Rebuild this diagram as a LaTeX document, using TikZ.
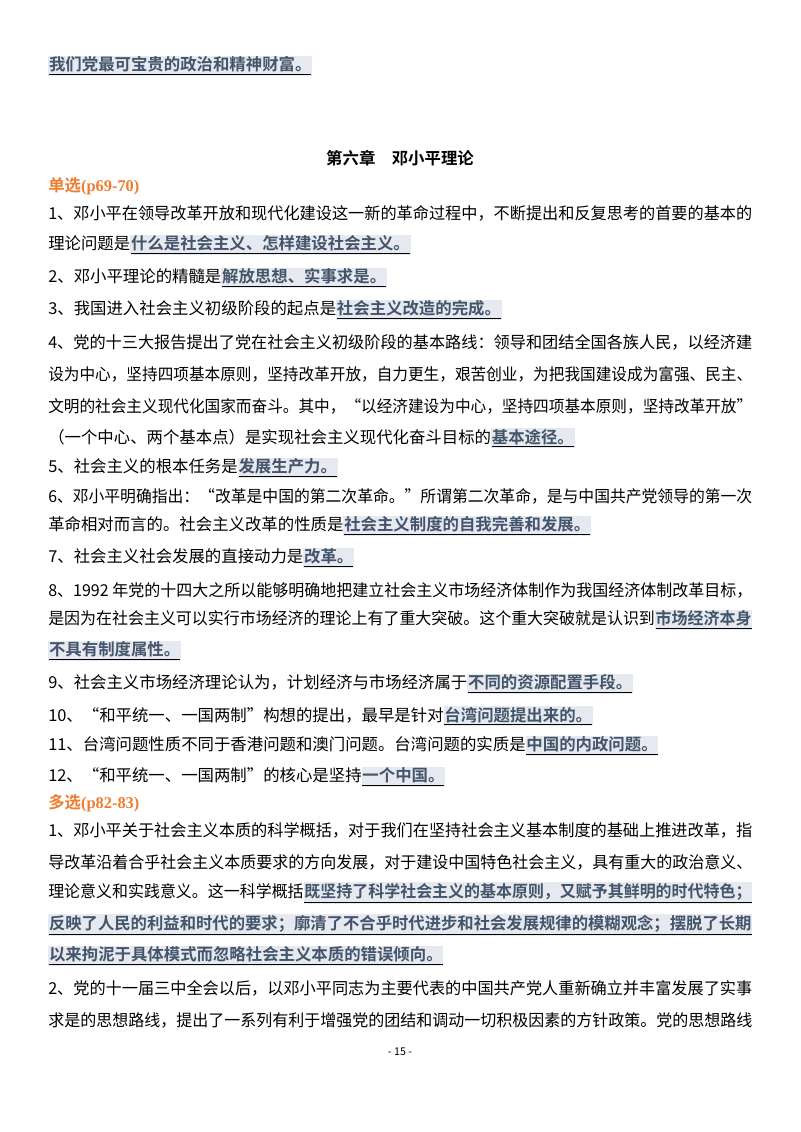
\documentclass[tikz,border=0pt]{standalone}
\usepackage{fontspec}
\usepackage{graphicx}
\setmainfont{Noto Sans CJK SC}[BoldFont={Noto Sans CJK SC Bold}]
\newfontfamily\latinserif{Liberation Serif}
\definecolor{hlbg}{HTML}{E6EAF0}
\definecolor{hltx}{HTML}{44546A}
\definecolor{orng}{HTML}{ED7D31}
\newcommand{\hl}[1]{{\setlength\fboxsep{0.6pt}\colorbox{hlbg}{\underline{\textcolor{hltx}{\bfseries #1}}}}}
\newcommand{\full}[1]{\resizebox{528pt}{\height}{#1}}
\begin{document}
\begin{tikzpicture}[x=0.75pt,y=-0.75pt,
  ln/.style={anchor=west,inner sep=0pt,font=\fontsize{12.3pt}{15pt}\selectfont},
  hd/.style={ln,text=orng,font=\fontsize{12.3pt}{15pt}\selectfont\bfseries}]
\useasboundingbox[fill=white] (0,0) rectangle (800,1132);
\node[ln] (t0) at (48,66) {\hl{我们党最可宝贵的政治和精神财富。}};
\node[ln,anchor=center,font=\fontsize{12.3pt}{15pt}\selectfont\bfseries] (title) at (400,158) {第六章\quad 邓小平理论};
\node[hd] (h1) at (48,186) {单选{\latinserif\bfseries (p69-70)}};
\node[ln] (a1) at (48,213) {\full{1、邓小平在领导改革开放和现代化建设这一新的革命过程中，不断提出和反复思考的首要的基本的}};
\node[ln] (a2) at (48,245) {理论问题是\hl{什么是社会主义、怎样建设社会主义。}};
\node[ln] (a3) at (48,278) {2、邓小平理论的精髓是\hl{解放思想、实事求是。}};
\node[ln] (a4) at (48,310) {3、我国进入社会主义初级阶段的起点是\hl{社会主义改造的完成。}};
\node[ln] (a5) at (48,342) {\full{4、党的十三大报告提出了党在社会主义初级阶段的基本路线：领导和团结全国各族人民，以经济建}};
\node[ln] (a6) at (48,374) {\full{设为中心，坚持四项基本原则，坚持改革开放，自力更生，艰苦创业，为把我国建设成为富强、民主、}};
\node[ln] (a7) at (48,406) {\full{文明的社会主义现代化国家而奋斗。其中，“以经济建设为中心，坚持四项基本原则，坚持改革开放”}};
\node[ln] (a8) at (48,438) {（一个中心、两个基本点）是实现社会主义现代化奋斗目标的\hl{基本途径。}};
\node[ln] (a9) at (48,468) {5、社会主义的根本任务是\hl{发展生产力。}};
\node[ln] (a10) at (48,496) {\full{6、邓小平明确指出：“改革是中国的第二次革命。”所谓第二次革命，是与中国共产党领导的第一次}};
\node[ln] (a11) at (48,526) {革命相对而言的。社会主义改革的性质是\hl{社会主义制度的自我完善和发展。}};
\node[ln] (a12) at (48,558) {7、社会主义社会发展的直接动力是\hl{改革。}};
\node[ln] (a13) at (48,590) {\full{8、1992 年党的十四大之所以能够明确地把建立社会主义市场经济体制作为我国经济体制改革目标，}};
\node[ln] (a14) at (48,620) {\full{是因为在社会主义可以实行市场经济的理论上有了重大突破。这个重大突破就是认识到\hl{市场经济本身}}};
\node[ln] (a15) at (48,651) {\hl{不具有制度属性。}};
\node[ln] (a16) at (48,684) {9、社会主义市场经济理论认为，计划经济与市场经济属于\hl{不同的资源配置手段。}};
\node[ln] (a17) at (48,716) {10、“和平统一、一国两制”构想的提出，最早是针对\hl{台湾问题提出来的。}};
\node[ln] (a18) at (48,746) {11、台湾问题性质不同于香港问题和澳门问题。台湾问题的实质是\hl{中国的内政问题。}};
\node[ln] (a19) at (48,777) {12、“和平统一、一国两制”的核心是坚持\hl{一个中国。}};
\node[hd] (h2) at (48,803) {多选{\latinserif\bfseries (p82-83)}};
\node[ln] (b1) at (48,830) {\full{1、邓小平关于社会主义本质的科学概括，对于我们在坚持社会主义基本制度的基础上推进改革，指}};
\node[ln] (b2) at (48,862) {\full{导改革沿着合乎社会主义本质要求的方向发展，对于建设中国特色社会主义，具有重大的政治意义、}};
\node[ln] (b3) at (48,893) {\full{理论意义和实践意义。这一科学概括\hl{既坚持了科学社会主义的基本原则，又赋予其鲜明的时代特色；}}};
\node[ln] (b4) at (48,925) {\full{\hl{反映了人民的利益和时代的要求；廓清了不合乎时代进步和社会发展规律的模糊观念；摆脱了长期}}};
\node[ln] (b5) at (48,956) {\hl{以来拘泥于具体模式而忽略社会主义本质的错误倾向。}};
\node[ln] (b6) at (48,988) {\full{2、党的十一届三中全会以后，以邓小平同志为主要代表的中国共产党人重新确立并丰富发展了实事}};
\node[ln] (b7) at (48,1020) {\full{求是的思想路线，提出了一系列有利于增强党的团结和调动一切积极因素的方针政策。党的思想路线}};
\node[ln,anchor=center,font=\fontsize{8pt}{10pt}\selectfont] (pg) at (400,1052) {- 15 -};
\end{tikzpicture}
\end{document}
